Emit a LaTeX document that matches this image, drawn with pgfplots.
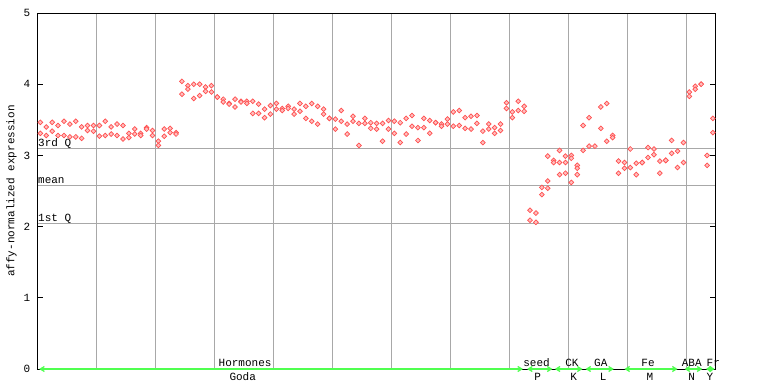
\documentclass[border=0pt]{standalone}
\usepackage{pgfplots}
\pgfplotsset{compat=1.18}
\usepackage{fontspec}
\setmainfont{Liberation Mono}
\usetikzlibrary{arrows.meta}
\definecolor{pred}{RGB}{255,80,80}
\definecolor{pfill}{RGB}{255,190,190}
\definecolor{pgreen}{RGB}{80,255,80}
\definecolor{pgrid}{RGB}{168,168,168}
\begin{document}
\fontsize{11}{13}\selectfont
\begin{tikzpicture}
\path[use as bounding box] (-38pt,-15pt) rectangle (730pt,369pt);
\begin{axis}[
  at={(0pt,0pt)}, anchor=south west,
  scale only axis, width=677pt, height=356pt,
  xmin=0, xmax=114.75, ymin=0, ymax=5,
  clip=false,
  axis line style={black, line width=1pt},
  xtick={10,20,...,110}, xticklabels={}, xmajorgrids,
  x tick style={draw=none},
  ytick={0,1,2,3,4,5}, ytick pos=both, tick align=inside,
  major tick length=5pt,
  y tick style={black, line width=0.8pt},
  grid style={pgrid, line width=1pt},
  /pgf/number format/assume math mode=true,
  yticklabel style={font=\fontsize{11}{13}\selectfont, xshift=-4pt},
  extra y ticks={2.04,2.58,3.1}, extra y tick labels={},
  extra y tick style={ymajorgrids=true, major tick length=0pt},
  ylabel={affy-normalized expression},
  ylabel style={at={(axis description cs:-0.039,0.5)}, anchor=center, font=\fontsize{11}{13}\selectfont},
]
\addplot[only marks, mark=square*, mark size=1.7pt, mark options={rotate=45, draw=pred, fill=pfill, line width=0.7pt}] coordinates {
(0.4,3.465)(0.4,3.31)(1.4,3.40)(1.4,3.28)(2.4,3.465)(2.4,3.34)(3.4,3.42)(3.4,3.28)
(4.4,3.48)(4.4,3.28)(5.4,3.44)(5.4,3.26)(6.4,3.48)(6.4,3.26)(7.4,3.40)(7.4,3.24)
(8.4,3.42)(8.4,3.35)(9.4,3.42)(9.4,3.34)(10.4,3.42)(10.4,3.27)(11.4,3.48)(11.4,3.28)
(12.4,3.40)(12.4,3.30)(13.4,3.44)(13.4,3.28)(14.4,3.42)(14.4,3.23)(15.4,3.31)(15.4,3.25)
(16.4,3.37)(16.4,3.30)(17.4,3.31)(17.4,3.28)(18.4,3.39)(18.4,3.37)(19.4,3.35)(19.4,3.28)
(20.4,3.20)(20.4,3.14)(21.4,3.37)(21.4,3.27)(22.4,3.38)(22.4,3.32)(23.4,3.32)(23.4,3.30)
(24.4,4.04)(24.4,3.86)(25.4,3.98)(25.4,3.93)(26.4,4.00)(26.4,3.80)(27.4,4.00)(27.4,3.84)
(28.4,3.96)(28.4,3.90)(29.4,3.98)(29.4,3.89)(30.4,3.82)(30.4,3.82)(31.4,3.79)(31.4,3.75)
(32.4,3.73)(32.4,3.72)(33.4,3.79)(33.4,3.68)(34.4,3.76)(34.4,3.75)(35.4,3.76)(35.4,3.73)
(36.4,3.76)(36.4,3.59)(37.4,3.72)(37.4,3.59)(38.4,3.65)(38.4,3.53)(39.4,3.70)(39.4,3.58)
(40.4,3.73)(40.4,3.65)(41.4,3.66)(41.4,3.63)(42.4,3.69)(42.4,3.66)(43.4,3.65)(43.4,3.58)
(44.4,3.73)(44.4,3.62)(45.4,3.69)(45.4,3.52)(46.4,3.73)(46.4,3.48)(47.4,3.69)(47.4,3.44)
(48.4,3.65)(48.4,3.58)(49.4,3.52)(49.4,3.52)(50.4,3.51)(50.4,3.37)(51.4,3.63)(51.4,3.48)
(52.4,3.44)(52.4,3.30)(53.4,3.55)(53.4,3.48)(54.4,3.45)(54.4,3.14)(55.4,3.52)(55.4,3.45)
(56.4,3.46)(56.4,3.38)(57.4,3.45)(57.4,3.37)(58.4,3.45)(58.4,3.20)(59.4,3.49)(59.4,3.37)
(60.4,3.48)(60.4,3.31)(61.4,3.46)(61.4,3.18)(62.4,3.52)(62.4,3.30)(63.4,3.56)(63.4,3.41)
(64.4,3.39)(64.4,3.21)(65.4,3.52)(65.4,3.39)(66.4,3.49)(66.4,3.31)(67.4,3.46)(67.4,3.46)
(68.4,3.44)(68.4,3.41)(69.4,3.51)(69.4,3.44)(70.4,3.61)(70.4,3.41)(71.4,3.63)(71.4,3.42)
(72.4,3.53)(72.4,3.38)(73.4,3.55)(73.4,3.37)(74.4,3.56)(74.4,3.45)(75.4,3.34)(75.4,3.18)
(76.4,3.44)(76.4,3.37)(77.4,3.39)(77.4,3.31)(78.4,3.44)(78.4,3.35)(79.4,3.74)(79.4,3.66)
(80.4,3.61)(80.4,3.53)(81.4,3.76)(81.4,3.63)(82.4,3.69)(82.4,3.62)
(83.4,2.23)(83.4,2.09)(84.4,2.19)(84.4,2.06)(85.4,2.55)(85.4,2.45)
(86.4,2.99)(86.4,2.64)(86.4,2.54)(87.4,2.93)(87.4,2.90)
(88.4,3.07)(88.4,2.90)(88.4,2.73)(89.4,2.99)(89.4,2.90)(89.4,2.75)
(90.4,3.00)(90.4,2.96)(90.4,2.62)(91.4,2.86)(91.4,2.82)(91.4,2.73)
(92.4,3.42)(92.4,3.07)(93.4,3.53)(93.4,3.13)(94.4,3.13)(95.4,3.68)(95.4,3.38)
(96.4,3.73)(96.4,3.20)(97.4,3.28)(97.4,3.25)(98.4,2.92)(98.4,2.75)(99.4,2.90)(99.4,2.82)
(100.4,3.09)(100.4,2.83)(101.4,2.89)(101.4,2.73)(102.4,2.90)(102.4,2.90)
(103.4,3.11)(103.4,2.97)(104.4,3.09)(104.4,3.01)(105.4,2.92)(105.4,2.75)
(106.4,2.93)(106.4,2.93)(107.4,3.21)(107.4,3.03)(108.4,3.06)(108.4,2.83)
(109.4,3.18)(109.4,2.90)(110.4,3.89)(110.4,3.83)(111.4,3.97)(111.4,3.93)
(112.4,4.00)(112.4,4.00)(113.4,3.00)(113.4,2.86)(114.4,3.52)(114.4,3.32)
};
% quartile labels
\node[anchor=base west, inner sep=0pt] at ([yshift=2pt]axis cs:0,3.1) {3rd Q};
\node[anchor=base west, inner sep=0pt] at ([yshift=2pt]axis cs:0,2.58) {mean};
\node[anchor=base west, inner sep=0pt] at ([yshift=2pt]axis cs:0,2.04) {1st Q};
% group arrows
\tikzset{garrow/.style={pgreen, line width=1.3pt, {Straight Barb[length=4pt,width=5pt]}-{Straight Barb[length=4pt,width=5pt]}}}
\draw[garrow] (axis cs:0.2,0) -- (axis cs:82.2,0);
\draw[garrow] (axis cs:82.9,0) -- (axis cs:87.2,0);
\draw[garrow] (axis cs:87.6,0) -- (axis cs:92.3,0);
\draw[garrow] (axis cs:92.8,0) -- (axis cs:97.6,0);
\draw[garrow] (axis cs:99.4,0) -- (axis cs:108.4,0);
\draw[garrow] (axis cs:109.6,0) -- (axis cs:112.6,0);
\draw[garrow] (axis cs:113.2,0) -- (axis cs:114.7,0);
% group labels
\node[anchor=base, inner sep=0pt] at ([yshift=3pt]axis cs:35.1,0) {Hormones};
\node[anchor=base, inner sep=0pt] at ([yshift=-11pt]axis cs:34.7,0) {Goda};
\node[anchor=base, inner sep=0pt] at ([yshift=3pt]axis cs:84.5,0) {seed};
\node[anchor=base, inner sep=0pt] at ([yshift=-11pt]axis cs:84.7,0) {P};
\node[anchor=base, inner sep=0pt] at ([yshift=3pt]axis cs:90.5,0) {CK};
\node[anchor=base, inner sep=0pt] at ([yshift=-11pt]axis cs:90.8,0) {K};
\node[anchor=base, inner sep=0pt] at ([yshift=3pt]axis cs:95.4,0) {GA};
\node[anchor=base, inner sep=0pt] at ([yshift=-11pt]axis cs:95.8,0) {L};
\node[anchor=base, inner sep=0pt] at ([yshift=3pt]axis cs:103.4,0) {Fe};
\node[anchor=base, inner sep=0pt] at ([yshift=-11pt]axis cs:103.7,0) {M};
\node[anchor=base, inner sep=0pt] at ([yshift=3pt]axis cs:110.8,0) {ABA};
\node[anchor=base, inner sep=0pt] at ([yshift=-11pt]axis cs:110.8,0) {N};
\node[anchor=base west, inner sep=0pt] at ([yshift=3pt]axis cs:113.3,0) {Fr};
\node[anchor=base, inner sep=0pt] at ([yshift=-11pt]axis cs:113.9,0) {Y};
\end{axis}
\end{tikzpicture}
\end{document}
